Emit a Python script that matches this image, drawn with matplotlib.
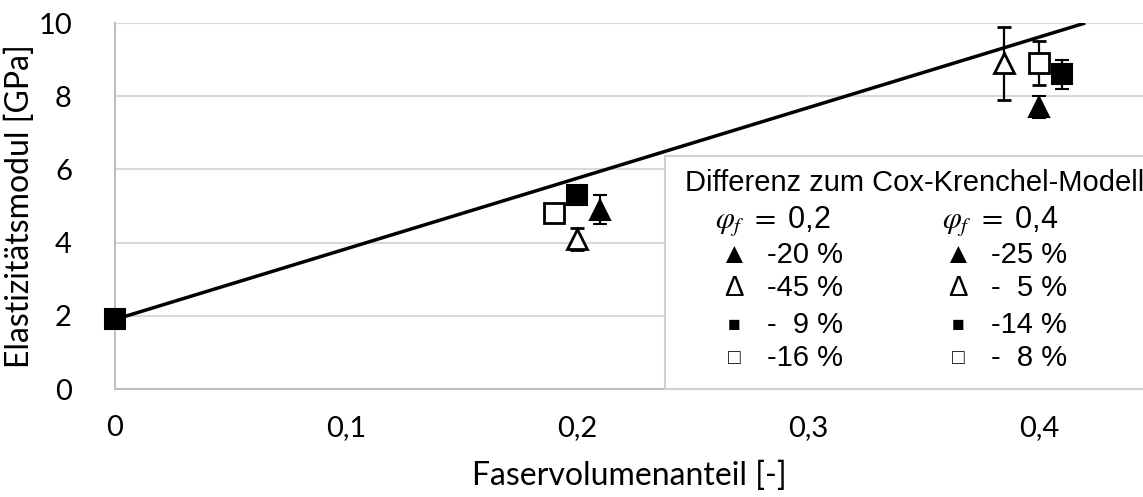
import matplotlib.pyplot as plt
from matplotlib.patches import Rectangle

plt.rcParams['mathtext.fontset'] = 'stix'

# Messwerte (Faservolumenanteil, E-Modul, Standardabweichung)
x_tri_fill = [0.21, 0.40]
y_tri_fill = [4.9, 7.7]
e_tri_fill = [0.4, 0.3]

x_tri_open = [0.20, 0.385]
y_tri_open = [4.1, 8.9]
e_tri_open = [0.3, 1.0]

x_sq_fill = [0.0, 0.20, 0.41]
y_sq_fill = [1.9, 5.3, 8.6]
e_sq_fill = [0.0, 0.1, 0.4]

x_sq_open = [0.19, 0.40]
y_sq_open = [4.8, 8.9]
e_sq_open = [0.1, 0.6]

# Cox-Krenchel-Modell
x_model = [0.0, 0.42]
y_model = [1.9, 10.0]

xticks = [0, 0.1, 0.2, 0.3, 0.4]
xticklabels = ['0', '0,1', '0,2', '0,3', '0,4']
yticks = [0, 2, 4, 6, 8, 10]

leg_title = 'Differenz zum Cox-Krenchel-Modell'
leg_heads = [r'$\varphi_f$ $=$ 0,2', r'$\varphi_f$ $=$ 0,4']
leg_symbols = ['▲', 'Δ', '■', '□']
leg_col1 = ['-20 %', '-45 %', '-  9 %', '-16 %']
leg_col2 = ['-25 %', '-  5 %', '-14 %', '-  8 %']

fig = plt.figure(figsize=(11.43, 4.97), dpi=100)
ax = fig.add_axes([115/1143, 1 - 389/497, 1 - 115/1143, (389 - 23)/497])

ax.plot(x_model, y_model, color='black', lw=2.5, zorder=3, solid_capstyle='butt')

ebkw = dict(ecolor='black', elinewidth=1.6, capsize=5, capthick=1.6, ls='none', zorder=4)
series = [
    (x_tri_fill, y_tri_fill, e_tri_fill, '^', 'black'),
    (x_tri_open, y_tri_open, e_tri_open, '^', 'white'),
    (x_sq_fill, y_sq_fill, e_sq_fill, 's', 'black'),
    (x_sq_open, y_sq_open, e_sq_open, 's', 'white'),
]
for xs, ys, es, m, fc in series:
    cont = ax.errorbar(xs, ys, yerr=es, marker=m, ms=15, mfc=fc, mec='black',
                       mew=2 if fc == 'white' else 1.5, **ebkw)
    for art in cont.get_children():
        art.set_clip_on(False)

ax.set_xlim(0, 0.445)
ax.set_ylim(0, 10)
ax.set_xticks(xticks)
ax.set_xticklabels(xticklabels)
ax.set_yticks(yticks)
ax.grid(axis='y', color='#d9d9d9', lw=1.5, zorder=0)
ax.set_axisbelow(True)
for s in ['top', 'right']:
    ax.spines[s].set_visible(False)
for s in ['left', 'bottom']:
    ax.spines[s].set_color('#bfbfbf')
    ax.spines[s].set_linewidth(1.5)
ax.tick_params(length=0, labelsize=21)
ax.tick_params(axis='y', pad=31)
ax.tick_params(axis='x', pad=19)
for lab in ax.get_xticklabels() + ax.get_yticklabels():
    lab.set_fontfamily('Lato')

ax.set_xlabel('Faservolumenanteil [-]', fontsize=23, fontfamily='Lato', labelpad=14)
ax.set_ylabel('Elastizitätsmodul [GPa]', fontsize=23, fontfamily='Lato', labelpad=2)

# Textfeld mit Differenzen
def fx(px):
    return (px - 115) / 1028

def fy(py):
    return (389 - py) / 366

box = Rectangle((fx(665), 0), 0.6, fy(156), transform=ax.transAxes,
                facecolor='white', edgecolor='#d0d0d0', lw=1.5, zorder=5, clip_on=False)
ax.add_patch(box)

fam = ['Liberation Sans', 'DejaVu Sans']
tk = dict(transform=ax.transAxes, fontsize=21, va='center', zorder=6, family=fam)
ax.text(fx(685), fy(183), leg_title, ha='left', **tk)
hk = dict(tk, fontsize=22)
ax.text(fx(715), fy(222), leg_heads[0], ha='left', **hk)
ax.text(fx(942), fy(222), leg_heads[1], ha='left', **hk)
rows = [255, 288, 325, 358]
sym_sizes = [21, 21, 15, 15]
for i in range(4):
    for cx, tx, lab in [(734, 767, leg_col1[i]), (958, 991, leg_col2[i])]:
        ax.text(fx(cx), fy(rows[i]), leg_symbols[i], ha='center', transform=ax.transAxes,
                fontsize=sym_sizes[i], va='center', zorder=6, family=fam)
        ax.text(fx(tx), fy(rows[i]), lab, ha='left', **tk)

fig.savefig('out.png', dpi=100)
